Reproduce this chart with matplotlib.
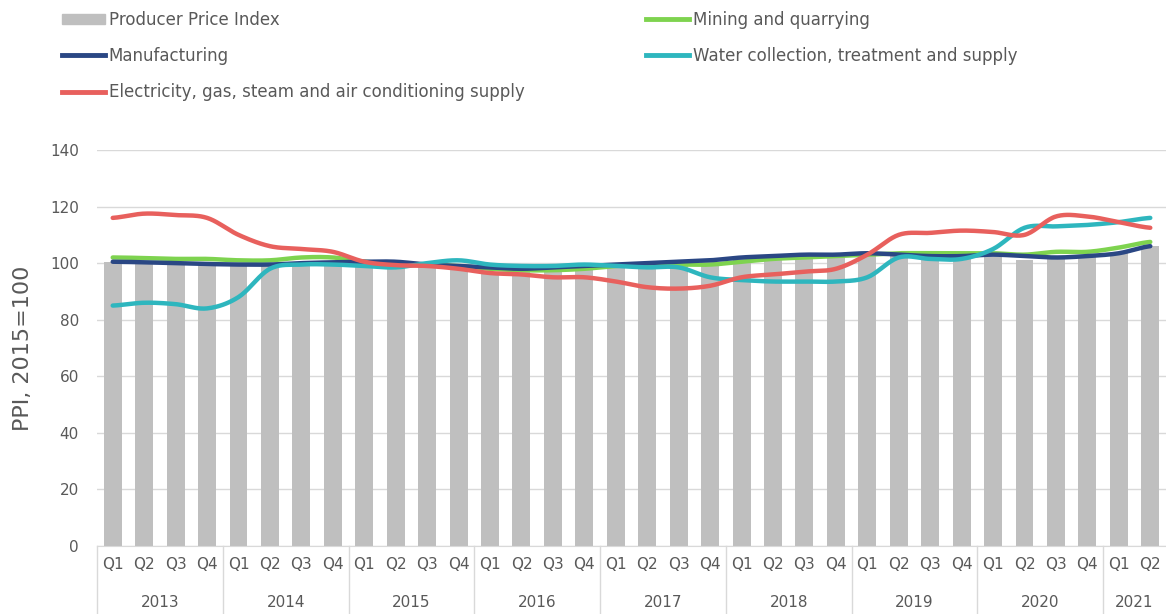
import numpy as np
import matplotlib
matplotlib.use('Agg')
import matplotlib.pyplot as plt
from matplotlib.lines import Line2D
from matplotlib.patches import Patch
import matplotlib.transforms as mtransforms

plt.rcParams['font.family'] = ['DejaVu Sans']

# Квартальные индексы цен производителей, 2015=100
years = ['2013', '2014', '2015', '2016', '2017', '2018', '2019', '2020', '2021']
quarters_per_year = [4, 4, 4, 4, 4, 4, 4, 4, 2]

ppi = [100.5, 100.5, 100, 100, 99.5, 99.5, 100, 100.5,
       99.5, 99, 99, 98.5, 97, 97, 97.5, 98,
       99, 99.5, 100, 100.5, 101.5, 102, 102.5, 103,
       103, 102.5, 102, 102, 102, 101, 101.5, 102,
       103.5, 106]
mining = [102, 101.8, 101.5, 101.5, 101, 101, 102, 102,
          100.5, 100, 99.5, 99, 98, 97.5, 97.5, 98,
          99, 99.5, 99.5, 99.5, 100.5, 101.5, 102, 102.5,
          103, 103.5, 103.5, 103.5, 103.5, 103, 104, 104,
          105.5, 107.5]
manufacturing = [100.5, 100.3, 100, 99.7, 99.5, 99.5, 100, 100.3,
                 100.5, 100.5, 99.5, 99, 98.5, 98, 98.5, 99,
                 99.5, 100, 100.5, 101, 102, 102.5, 103, 103,
                 103.5, 103, 102.5, 102.5, 103, 102.5, 102, 102.5,
                 103.5, 106]
water = [85, 86, 85.5, 84, 88, 98, 99.5, 99.5,
         99, 98.5, 100, 101, 99.5, 99, 99, 99.5,
         99, 98.5, 98.5, 95, 94, 93.5, 93.5, 93.5,
         95, 102, 101.5, 101.5, 105, 112.5, 113, 113.5,
         114.5, 116]
electricity = [116, 117.5, 117, 116, 110, 106, 105, 104,
               100.5, 99.3, 99, 98, 96.5, 96, 95, 95,
               93.5, 91.5, 91, 92, 95, 96, 97, 98,
               103, 110, 110.7, 111.5, 111, 110, 116.5, 116.5,
               114.5, 112.5]

quarter_labels = []
for n in quarters_per_year:
    quarter_labels += ['Q%d' % (k + 1) for k in range(n)]


def smooth(y, steps=20):
    # сглаживание линии сплайном Катмулла-Рома
    y = np.asarray(y, dtype=float)
    p = np.concatenate([[y[0]], y, [y[-1]]])
    xs, ys = [], []
    t = np.linspace(0, 1, steps, endpoint=False)
    for i in range(len(y) - 1):
        p0, p1, p2, p3 = p[i], p[i + 1], p[i + 2], p[i + 3]
        seg = 0.5 * ((2 * p1) + (-p0 + p2) * t
                     + (2 * p0 - 5 * p1 + 4 * p2 - p3) * t ** 2
                     + (-p0 + 3 * p1 - 3 * p2 + p3) * t ** 3)
        xs.append(i + t)
        ys.append(seg)
    xs.append([len(y) - 1])
    ys.append([y[-1]])
    return np.concatenate(xs), np.concatenate(ys)


fig = plt.figure(figsize=(11.66, 6.14), dpi=100)
ax = fig.add_axes([97 / 1166, 68 / 614, 1069 / 1166, 396 / 614])

x = np.arange(len(ppi))
text_col = '#595959'

ax.bar(x, ppi, width=0.57, color='#bfbfbf', zorder=2)

series = [
    (mining, '#7ed34f'),
    (manufacturing, '#2a4784'),
    (water, '#2eb6be'),
    (electricity, '#e8605d'),
]
for vals, col in series:
    sx, sy = smooth(vals)
    ax.plot(sx, sy, color=col, lw=3.2, solid_capstyle='round', zorder=3)

ax.set_xlim(-0.5, len(ppi) - 0.5)
ax.set_ylim(0, 140)
ax.set_yticks(range(0, 141, 20))
ax.grid(axis='y', color='#d9d9d9', lw=1, zorder=0)
for s in ['top', 'right', 'left']:
    ax.spines[s].set_visible(False)
ax.spines['bottom'].set_color('#d9d9d9')
ax.tick_params(axis='y', length=0, pad=13, labelsize=11, labelcolor=text_col)
ax.tick_params(axis='x', length=0, pad=8, labelsize=11, labelcolor=text_col)
ax.set_xticks(x)
ax.set_xticklabels(quarter_labels)
ax.set_ylabel('PPI, 2015=100', fontsize=16, color=text_col, labelpad=12)

# подписи годов и разделители под осью
trans = mtransforms.blended_transform_factory(ax.transData, ax.transAxes)
start = 0
bounds = [-0.5]
for yr, n in zip(years, quarters_per_year):
    mid = start + (n - 1) / 2
    ax.text(mid, -0.143, yr, transform=trans, ha='center', va='center',
            fontsize=11, color=text_col)
    start += n
    bounds.append(start - 0.5)
for b in bounds[:-1]:
    ax.plot([b, b], [0, -0.2], transform=trans, color='#d9d9d9', lw=1,
            clip_on=False)

handles = [
    Patch(color='#bfbfbf', label='Producer Price Index'),
    Line2D([], [], color='#2a4784', lw=3.5, label='Manufacturing'),
    Line2D([], [], color='#e8605d', lw=3.5,
           label='Electricity, gas, steam and air conditioning supply'),
    Line2D([], [], color='#7ed34f', lw=3.5, label='Mining and quarrying'),
    Line2D([], [], color='#2eb6be', lw=3.5,
           label='Water collection, treatment and supply'),
]
leg = fig.legend(handles=handles, ncol=2, loc='upper left',
                 bbox_to_anchor=(47 / 1166, 1.007), frameon=False,
                 fontsize=12, handlelength=2.6, handleheight=0.6,
                 handletextpad=0.2, columnspacing=7.3, labelspacing=1.1,
                 labelcolor=text_col)

fig.savefig('out.png', dpi=100)
